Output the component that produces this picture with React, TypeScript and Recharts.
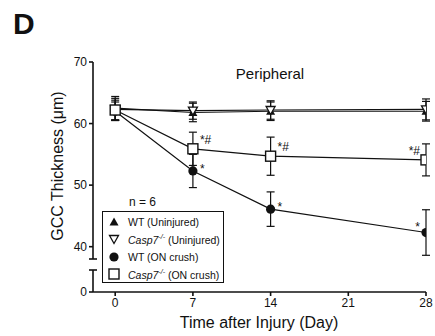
import { ComposedChart, Line, XAxis, YAxis, ErrorBar, LabelList } from 'recharts';

const FONT = 'Arial, "Liberation Sans", Helvetica, sans-serif';
const INK = '#111';

// days after injury
const days = [0, 7, 14, 28];
const xTicks = [0, 7, 14, 21, 28];
const yTicksUpper = [38, 40, 50, 60, 70];
const yTicksLower = [0, 3.5];
const breakTicks = [38, 3.5];

// GCC thickness (um), mean and error
const wtUninjured = [62.5, 61.8, 62.0, 62.0];
const wtUninjuredErr = [1.9, 1.5, 1.5, 1.6];
const caspUninjured = [62.3, 62.1, 62.2, 62.3];
const caspUninjuredErr = [1.8, 1.4, 1.5, 1.7];
const wtCrush = [62.0, 52.3, 46.1, 42.3];
const wtCrushErr = [1.5, 2.7, 2.8, 3.7];
const caspCrush = [62.2, 55.9, 54.7, 54.1];
const caspCrushErr = [1.6, 2.7, 3.1, 2.6];

// significance marks
const wtCrushSig = [null, '*', '*', '*'];
const caspCrushSig = [null, '*#', '*#', '*#'];

const legendLabels = ['WT (Uninjured)', 'Casp7 (Uninjured)', 'WT (ON crush)', 'Casp7 (ON crush)'];

const rows = days.map((day, i) => ({
  day,
  wtU: wtUninjured[i],
  wtUErr: wtUninjuredErr[i],
  caU: caspUninjured[i],
  caUErr: caspUninjuredErr[i],
  wtC: wtCrush[i],
  wtCErr: wtCrushErr[i],
  wtCSig: wtCrushSig[i],
  caC: caspCrush[i],
  caCErr: caspCrushErr[i],
  caCSig: caspCrushSig[i],
}));

type Kind = 'triUp' | 'triDown' | 'circle' | 'square';

function Marker({ kind, cx, cy }: { kind: Kind; cx: number; cy: number }) {
  if (kind === 'triUp') {
    return <polygon points={`${cx},${cy - 4.5} ${cx - 4.5},${cy + 3.5} ${cx + 4.5},${cy + 3.5}`} fill={INK} />;
  }
  if (kind === 'triDown') {
    return (
      <polygon
        points={`${cx - 4.5},${cy - 3.5} ${cx + 4.5},${cy - 3.5} ${cx},${cy + 4.5}`}
        fill="#fff"
        stroke={INK}
        strokeWidth={1.3}
      />
    );
  }
  if (kind === 'circle') return <circle cx={cx} cy={cy} r={4.6} fill={INK} />;
  return <rect x={cx - 5} y={cy - 5} width={10} height={10} fill="#fff" stroke={INK} strokeWidth={1.4} />;
}

const dotOf = (kind: Kind) => (p: any) => <Marker key={`${kind}-${p.index}`} kind={kind} cx={p.cx} cy={p.cy} />;

const sigLabel = (kind: Kind) => (props: any) => {
  const { value, index } = props;
  if (!value) return null;
  const x = props.x ?? props.viewBox?.x;
  const y = props.y ?? props.viewBox?.y;
  const last = index === days.length - 1;
  const dy = kind === 'square' ? -5 : last ? -2 : 2;
  return (
    <text
      x={last ? x - 6 : x + 7}
      y={y + dy}
      textAnchor={last ? 'end' : 'start'}
      fontSize={12}
      fontFamily={FONT}
      fill={INK}
    >
      {value}
    </text>
  );
};

// y tick with a centred cap where the axis is broken
const TICK = 4;
const GAP = 2;
const renderYTick = (props: any) => {
  const { x, y, payload } = props;
  const ax = x + TICK + GAP;
  if (breakTicks.includes(payload.value)) {
    return <line key={`b-${payload.value}`} x1={ax - 4} x2={ax + 4} y1={y} y2={y} stroke={INK} strokeWidth={1.6} />;
  }
  return (
    <g key={`t-${payload.value}`}>
      <line x1={ax - TICK} x2={ax} y1={y} y2={y} stroke={INK} strokeWidth={1.6} />
      <text x={x} y={y} dy={4} textAnchor="end" fontSize={12} fontFamily={FONT} fill={INK}>
        {payload.value}
      </text>
    </g>
  );
};

function LegendSymbol({ kind }: { kind: Kind }) {
  return (
    <svg width={12} height={12} style={{ marginRight: 8 }}>
      <Marker kind={kind} cx={6} cy={6} />
    </svg>
  );
}

const kinds: Kind[] = ['triUp', 'triDown', 'circle', 'square'];

function LegendText({ label }: { label: string }) {
  if (label.startsWith('Casp7')) {
    return (
      <span>
        <i>Casp7</i>
        <sup style={{ fontSize: 7, fontStyle: 'italic' }}>-/-</sup>
        {label.slice(5)}
      </span>
    );
  }
  return <span>{label}</span>;
}

export default function App() {
  const axisLine = { stroke: INK, strokeWidth: 1.6 };
  return (
    <div style={{ position: 'absolute', left: 0, top: 0, width: 435, height: 336, background: '#fff', fontFamily: FONT }}>
      {/* lower segment of the broken axis + x axis */}
      <div style={{ position: 'absolute', left: 0, top: 0 }}>
        <ComposedChart width={435} height={336} data={rows} margin={{ top: 270, right: 9, bottom: 0, left: 0 }}>
          <XAxis
            type="number"
            dataKey="day"
            domain={[-2, 28]}
            allowDataOverflow
            ticks={xTicks}
            interval={0}
            tickSize={4}
            tickMargin={2}
            height={44}
            axisLine={axisLine}
            tickLine={{ stroke: INK, strokeWidth: 1.6 }}
            tick={{ fontSize: 12, fontFamily: FONT, fill: INK }}
          />
          <YAxis
            type="number"
            domain={[0, 3.5]}
            allowDataOverflow
            ticks={yTicksLower}
            interval={0}
            width={93}
            tickSize={TICK}
            tickMargin={GAP}
            tickLine={false}
            axisLine={axisLine}
            tick={renderYTick}
          />
        </ComposedChart>
      </div>

      {/* upper segment with the data */}
      <div style={{ position: 'absolute', left: 0, top: 0 }}>
        <ComposedChart width={435} height={336} data={rows} margin={{ top: 62, right: 9, bottom: 77, left: 0 }}>
          <XAxis type="number" dataKey="day" domain={[-2, 28]} allowDataOverflow hide />
          <YAxis
            type="number"
            domain={[38, 70]}
            allowDataOverflow
            ticks={yTicksUpper}
            interval={0}
            width={93}
            tickSize={TICK}
            tickMargin={GAP}
            tickLine={false}
            axisLine={axisLine}
            tick={renderYTick}
          />
          <Line dataKey="wtU" stroke={INK} strokeWidth={1.2} dot={dotOf('triUp')} isAnimationActive={false}>
            <ErrorBar dataKey="wtUErr" direction="y" width={4} stroke={INK} strokeWidth={1.2} />
          </Line>
          <Line dataKey="caU" stroke={INK} strokeWidth={1.2} dot={dotOf('triDown')} isAnimationActive={false}>
            <ErrorBar dataKey="caUErr" direction="y" width={4} stroke={INK} strokeWidth={1.2} />
          </Line>
          <Line dataKey="wtC" stroke={INK} strokeWidth={1.2} dot={dotOf('circle')} isAnimationActive={false}>
            <ErrorBar dataKey="wtCErr" direction="y" width={4} stroke={INK} strokeWidth={1.2} />
            <LabelList dataKey="wtCSig" content={sigLabel('circle')} />
          </Line>
          <Line dataKey="caC" stroke={INK} strokeWidth={1.2} dot={dotOf('square')} isAnimationActive={false}>
            <ErrorBar dataKey="caCErr" direction="y" width={4} stroke={INK} strokeWidth={1.2} />
            <LabelList dataKey="caCSig" content={sigLabel('square')} />
          </Line>
        </ComposedChart>
      </div>

      {/* titles and axis labels */}
      <svg width={435} height={336} style={{ position: 'absolute', left: 0, top: 0, pointerEvents: 'none' }}>
        <text x={13} y={34} fontSize={30} fontWeight="bold" fontFamily={FONT} fill={INK}>D</text>
        <text x={270} y={79} fontSize={15} textAnchor="middle" fontFamily={FONT} fill={INK}>Peripheral</text>
        <text
          x={0}
          y={0}
          transform="translate(63,166) rotate(-90)"
          fontSize={16}
          textAnchor="middle"
          fontFamily={FONT}
          fill={INK}
        >
          GCC Thickness (μm)
        </text>
        <text x={259} y={328} fontSize={16} textAnchor="middle" fontFamily={FONT} fill={INK}>
          Time after Injury (Day)
        </text>
        <text x={129} y={206} fontSize={12} fontFamily={FONT} fill={INK}>n = 6</text>
      </svg>

      {/* legend box */}
      <div
        style={{
          position: 'absolute',
          left: 102,
          top: 211,
          width: 122,
          height: 72,
          border: `1.4px solid ${INK}`,
          background: '#fff',
          fontSize: 10.5,
          color: INK,
          paddingTop: 1,
          paddingLeft: 5,
          boxSizing: 'border-box',
        }}
      >
        {legendLabels.map((label, i) => (
          <div key={label} style={{ display: 'flex', alignItems: 'center', height: 17.5, whiteSpace: 'nowrap' }}>
            <LegendSymbol kind={kinds[i]} />
            <LegendText label={label} />
          </div>
        ))}
      </div>
    </div>
  );
}
